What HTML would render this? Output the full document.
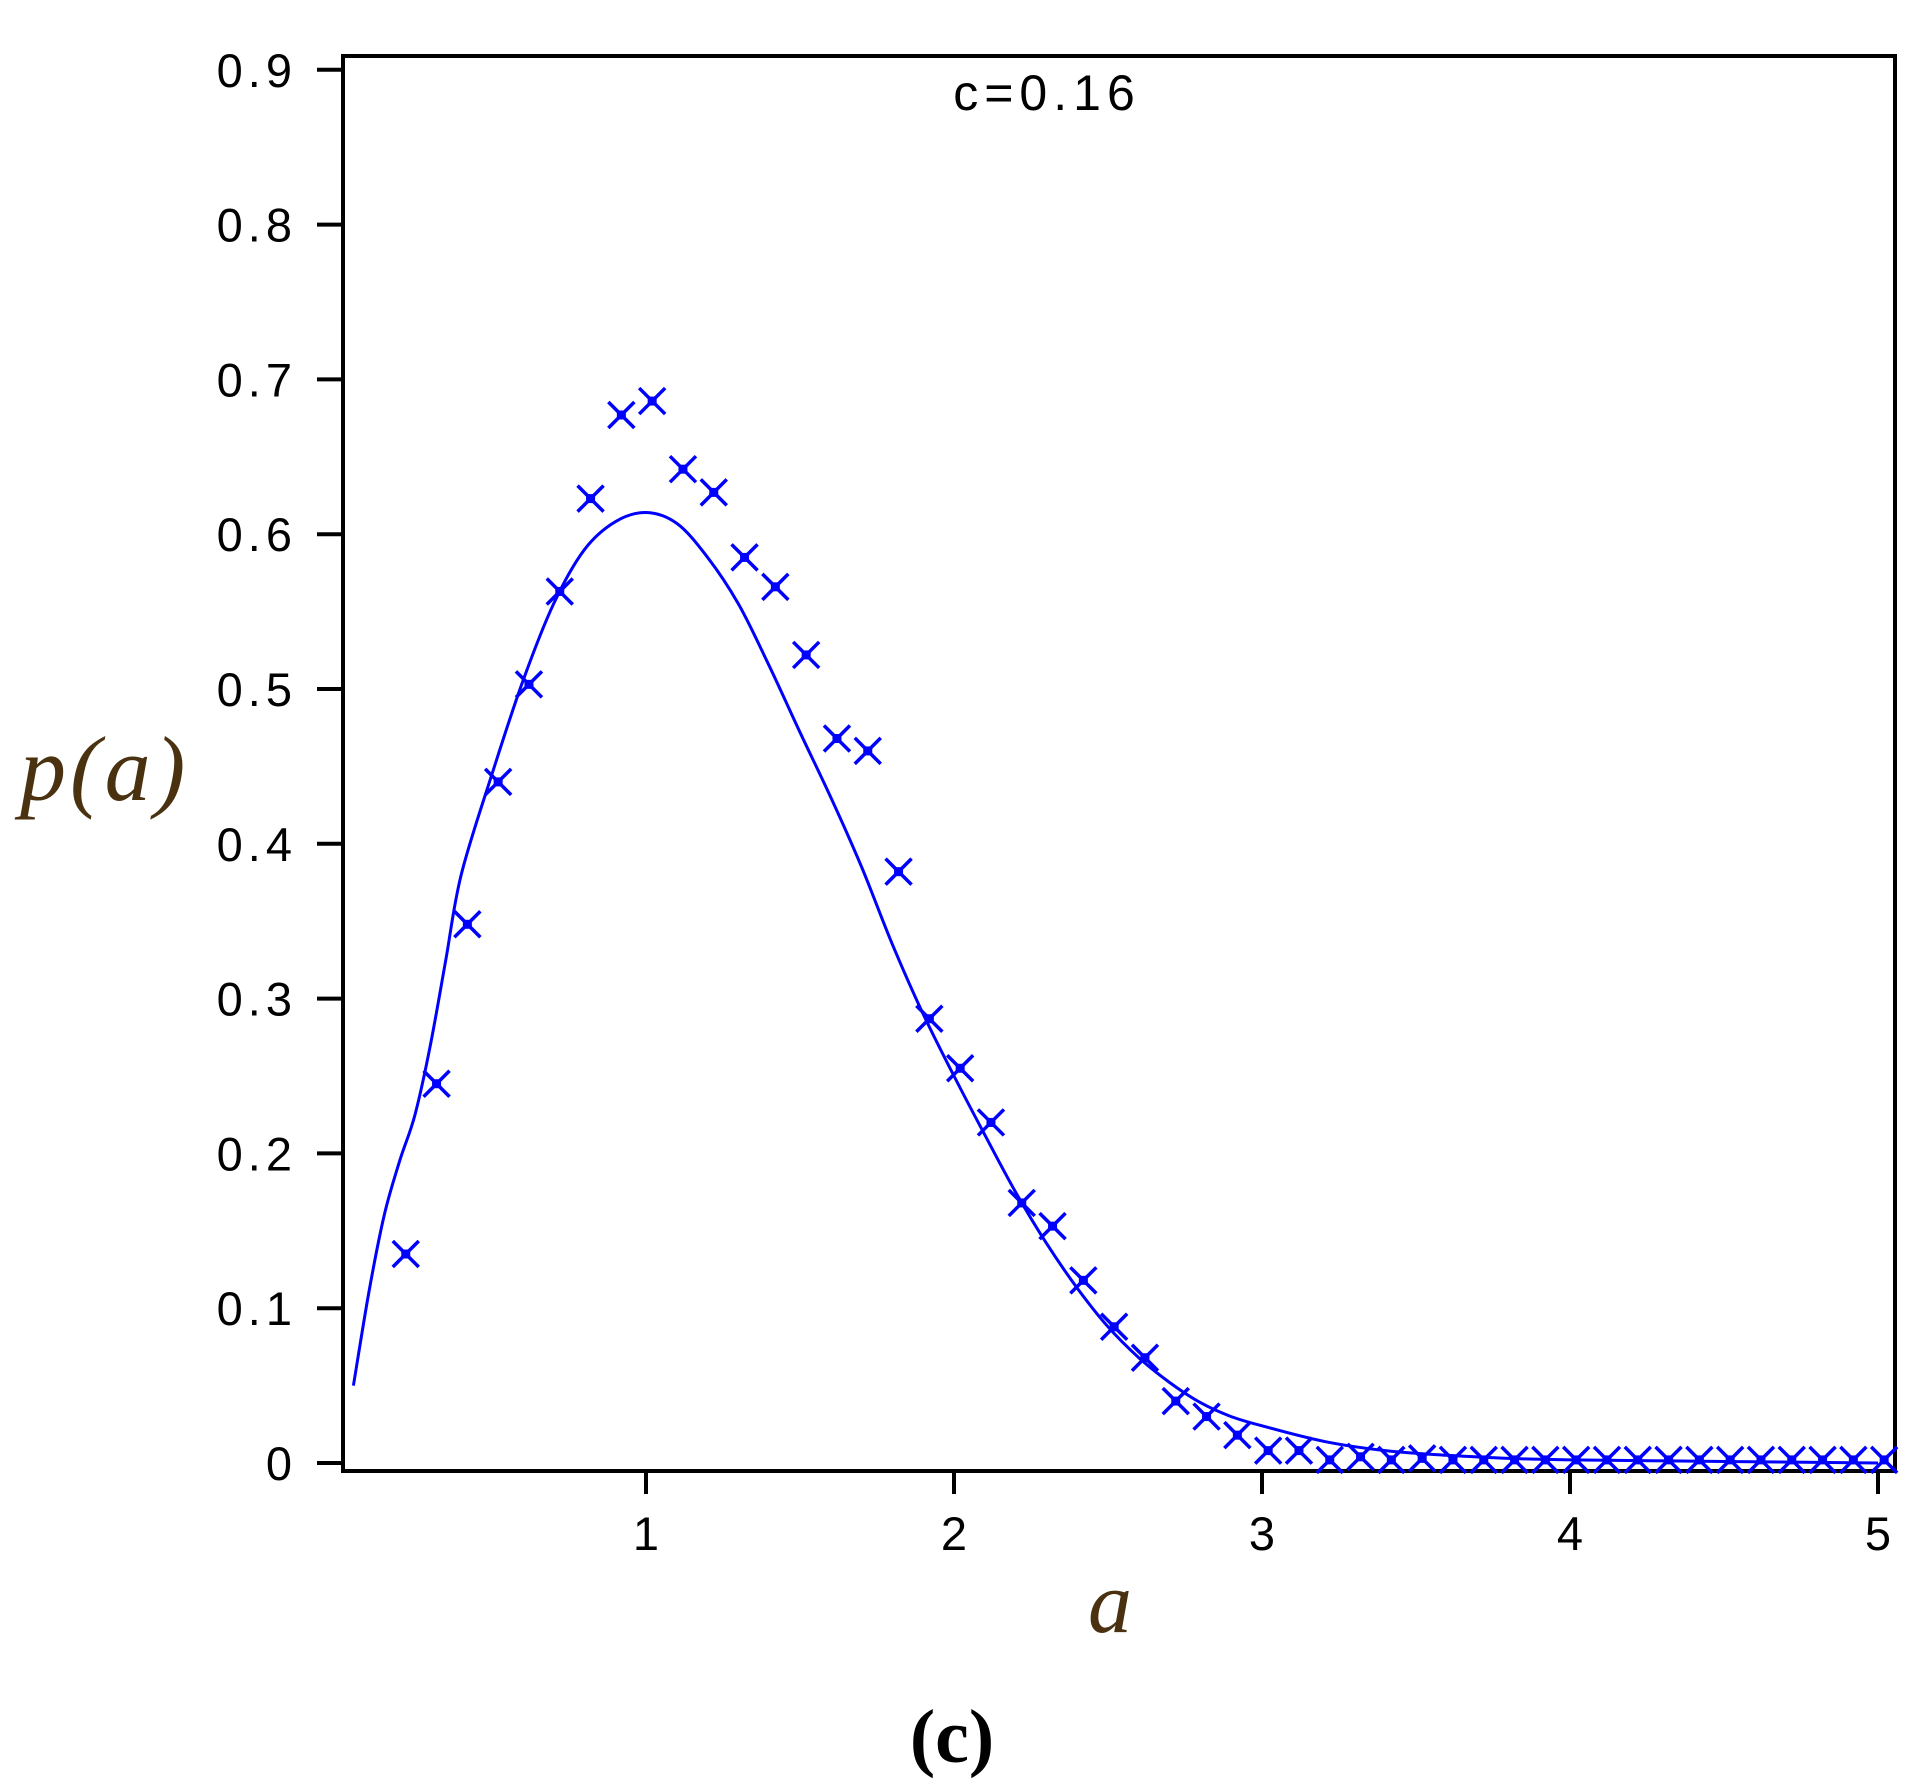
<!DOCTYPE html>
<html><head><meta charset="utf-8"><style>
html,body{margin:0;padding:0;background:#fff;}
svg{display:block;}
</style></head><body>
<svg width="1912" height="1785" viewBox="0 0 1912 1785" xmlns="http://www.w3.org/2000/svg">
<g id="plot"></g>
</svg>
<script>
const xTicks = [1, 2, 3, 4, 5];
const xTickLabels = ["1", "2", "3", "4", "5"];
const yTicks = [0, 0.1, 0.2, 0.3, 0.4, 0.5, 0.6, 0.7, 0.8, 0.9];
const yTickLabels = ["0", "0.1", "0.2", "0.3", "0.4", "0.5", "0.6", "0.7", "0.8", "0.9"];
const pointX = [0.22,0.32,0.42,0.52,0.62,0.72,0.82,0.92,1.02,1.12,1.22,1.32,1.42,1.52,1.62,1.72,1.82,1.92,2.02,2.12,2.22,2.32,2.42,2.52,2.62,2.72,2.82,2.92,3.02,3.12,3.22,3.32,3.42,3.52,3.62,3.72,3.82,3.92,4.02,4.12,4.22,4.32,4.42,4.52,4.62,4.72,4.82,4.92,5.02];
const pointY = [0.135,0.245,0.348,0.44,0.503,0.563,0.623,0.677,0.686,0.642,0.627,0.585,0.566,0.522,0.468,0.46,0.382,0.287,0.255,0.22,0.168,0.153,0.118,0.088,0.068,0.04,0.03,0.018,0.008,0.008,0.002,0.004,0.002,0.003,0.002,0.002,0.002,0.002,0.002,0.002,0.002,0.002,0.002,0.002,0.002,0.002,0.002,0.002,0.002];
const curveX = [0.05,0.1,0.15,0.2,0.25,0.3,0.35,0.4,0.5,0.6,0.7,0.8,0.9,1.0,1.1,1.2,1.3,1.4,1.5,1.6,1.7,1.8,1.9,2.0,2.1,2.2,2.3,2.4,2.5,2.6,2.7,2.8,2.9,3.0,3.2,3.4,3.6,3.8,4.0,4.5,5.0];
const curveY = [0.05,0.11,0.16,0.195,0.225,0.27,0.325,0.38,0.445,0.505,0.555,0.59,0.608,0.614,0.607,0.585,0.555,0.515,0.472,0.43,0.385,0.335,0.29,0.25,0.212,0.175,0.142,0.113,0.088,0.068,0.052,0.039,0.03,0.024,0.014,0.008,0.005,0.003,0.002,0.001,0.0];

const NS = "http://www.w3.org/2000/svg";
const L = 343, R = 1895, T = 56, B = 1471;
const sx = a => 646 + (a - 1) * 308;
const sy = v => 1463 - v * 1548;
const g = document.getElementById('plot');
function mk(tag, attrs, parent) {
  const e = document.createElementNS(NS, tag);
  for (const k in attrs) e.setAttribute(k, attrs[k]);
  (parent || g).appendChild(e);
  return e;
}
const frame = mk('rect', {x: L, y: T, width: R - L, height: B - T, fill: 'none', stroke: '#000', 'stroke-width': 4});


yTicks.forEach((v, i) => {
  const t = mk('line', {x1: 317, x2: L, y1: sy(v), y2: sy(v), stroke: '#000', 'stroke-width': 4});
  
  
  const lb = mk('text', {x: 297, y: sy(v) + 17, 'text-anchor': 'end', 'font-family': 'Liberation Sans, sans-serif', 'font-size': 47, 'letter-spacing': 5, fill: '#000'});
  lb.textContent = yTickLabels[i];
  
  
});
xTicks.forEach((v, i) => {
  const t = mk('line', {x1: sx(v), x2: sx(v), y1: B, y2: 1494, stroke: '#000', 'stroke-width': 4});
  
  
  const lb = mk('text', {x: sx(v), y: 1550, 'text-anchor': 'middle', 'font-family': 'Liberation Sans, sans-serif', 'font-size': 47, fill: '#000'});
  lb.textContent = xTickLabels[i];
  
  
});
const P = curveX.map((x, i) => [sx(x), sy(curveY[i])]);
let d = 'M' + P[0][0] + ',' + P[0][1];
for (let i = 0; i < P.length - 1; i++) {
  const p0 = P[i - 1] || P[i], p1 = P[i], p2 = P[i + 1], p3 = P[i + 2] || P[i + 1];
  const c1 = [p1[0] + (p2[0] - p0[0]) / 6, p1[1] + (p2[1] - p0[1]) / 6];
  const c2 = [p2[0] - (p3[0] - p1[0]) / 6, p2[1] - (p3[1] - p1[1]) / 6];
  d += ` C${c1[0].toFixed(1)},${c1[1].toFixed(1)} ${c2[0].toFixed(1)},${c2[1].toFixed(1)} ${p2[0].toFixed(1)},${p2[1].toFixed(1)}`;
}
const path = mk('path', {d: d, fill: 'none', stroke: '#0000ff', 'stroke-width': 3});


pointX.forEach((x, i) => {
  const cx = sx(x), cy = sy(pointY[i]), s = 13;
  const c = mk('path', {d: `M${cx - s},${cy - s}L${cx + s},${cy + s}M${cx - s},${cy + s}L${cx + s},${cy - s}`, stroke: '#0000ff', 'stroke-width': 3.5, fill: 'none'});
  
  
  const sq = mk('rect', {x: cx - 4.5, y: cy - 4.5, width: 9, height: 9, fill: '#0000ff'});
  
  
});
const ann = mk('text', {x: 1047, y: 110, 'text-anchor': 'middle', 'font-family': 'Liberation Sans, sans-serif', 'font-size': 50, 'letter-spacing': 6, fill: '#000'});
ann.textContent = 'c=0.16';


const yt = mk('text', {x: 20, y: 800, 'font-family': 'Liberation Serif, serif', 'font-style': 'italic', 'font-size': 92, 'letter-spacing': 4, fill: '#4a3210'});
yt.textContent = 'p(a)';


const xt = mk('text', {x: 1110, y: 1632, 'text-anchor': 'middle', 'font-family': 'Liberation Serif, serif', 'font-style': 'italic', 'font-size': 88, fill: '#4a3210'});
xt.textContent = 'a';


const cap = mk('text', {x: 952, y: 1762, 'text-anchor': 'middle', 'font-family': 'Liberation Serif, serif', 'font-weight': 'bold', 'font-size': 76, fill: '#000'});
cap.textContent = '(c)';


</script>
</body></html>
